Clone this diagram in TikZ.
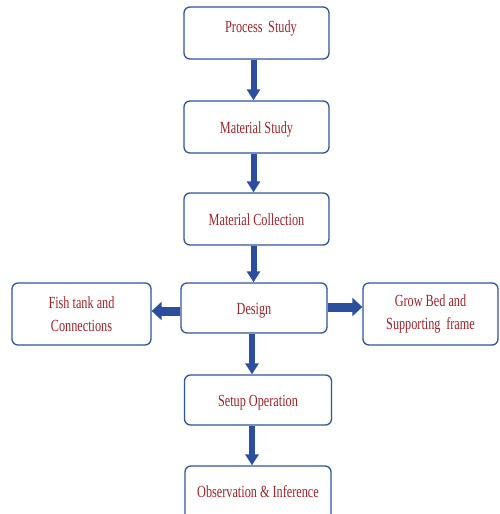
\documentclass[tikz,border=0pt]{standalone}
\usepackage{fontspec}
\setmainfont{Liberation Serif}[FakeStretch=0.72]
\usetikzlibrary{arrows.meta}
\definecolor{boxblue}{RGB}{47,85,151}
\definecolor{arrblue}{RGB}{44,78,158}
\definecolor{txtred}{RGB}{158,36,42}
\tikzset{
  x=1pt,y=1pt,
  txt/.style={text=txtred, font=\fontsize{17}{23}\selectfont},
  stepbox/.style={draw=boxblue, line width=1.3pt, rounded corners=6pt, fill=white,
    align=center, inner sep=0pt, txt},
  oneline/.style={text height=13pt, text depth=0pt},
  flow/.style={draw=arrblue, line width=6pt, -{Triangle[width=13pt,length=11pt]}},
  sideflow/.style={draw=arrblue, line width=9pt, -{Triangle[width=18pt,length=10pt]}}
}
\begin{document}
\begin{tikzpicture}
\useasboundingbox (0,0) rectangle (499,-514);
\clip (0,0) rectangle (499,-514);
\node[stepbox, minimum width=145pt, minimum height=52pt] (p) at (256.5,-33) {};
\node[txt] (pt) at (261,-28) {Process\,\,Study};
\node[stepbox, oneline, minimum width=145pt, minimum height=52pt] (m) at (256.5,-127) {Material Study};
\node[stepbox, oneline, minimum width=145pt, minimum height=52pt] (c) at (256.5,-219) {Material Collection};
\node[stepbox, oneline, minimum width=146pt, minimum height=50pt] (d) at (254,-308) {Design};
\node[stepbox, minimum width=139pt, minimum height=62pt] (f) at (81.5,-314) {Fish tank and\\Connections};
\node[stepbox, minimum width=135pt, minimum height=62pt] (g) at (430.5,-314) {Grow Bed and\\Supporting\,\,frame};
\node[stepbox, oneline, minimum width=147pt, minimum height=50pt] (s) at (258,-400) {Setup Operation};
\node[stepbox, minimum width=146pt, minimum height=60pt] (o) at (258,-496) {};
\node[txt] (ot) at (258,-492) {Observation \& Inference};
\draw[flow] ([xshift=-3pt]p.south) -- ([xshift=-3pt]m.north);
\draw[flow] ([xshift=-3pt]m.south) -- ([xshift=-3pt]c.north);
\draw[flow] ([xshift=-3pt]c.south) -- ([xshift=-3pt]c.south |- d.north);
\draw[flow] ([xshift=-2pt]d.south) -- ([xshift=-2pt]d.south |- s.north);
\draw[flow] ([xshift=-6pt]s.south) -- ([xshift=-6pt]o.north);
\draw[sideflow] ([yshift=-3pt]d.west) -- (f.east |- {0,-311});
\draw[sideflow] ([yshift=1pt]d.east) -- (g.west |- {0,-307});
\end{tikzpicture}
\end{document}
